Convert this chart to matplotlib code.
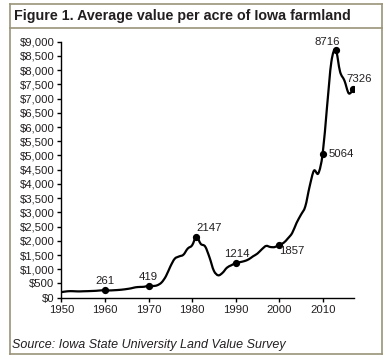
import matplotlib
matplotlib.use("Agg")
import matplotlib.pyplot as plt
from matplotlib.path import Path
from matplotlib.patches import PathPatch
from matplotlib.lines import Line2D
from matplotlib.ticker import FuncFormatter
import numpy as np

# Iowa farmland, average value per acre (nominal $), ISU Land Value Survey
years = list(range(1950, 2018))
values = [
    196, 219, 230, 226, 221, 226, 230, 236, 243, 256,          # 1950s
    261, 255, 262, 271, 285, 305, 330, 365, 378, 385,          # 1960s
    419, 410, 437, 537, 758, 1095, 1368, 1450, 1510, 1728,     # 1970s
    1840, 2147, 1889, 1801, 1418, 948, 787, 875, 1054, 1139,   # 1980s
    1214, 1250, 1286, 1349, 1455, 1550, 1699, 1820, 1782, 1781,  # 1990s
    1857, 1926, 2083, 2275, 2629, 2914, 3204, 3908, 4468, 4371,  # 2000s
    5064, 6708, 8296, 8716, 7943, 7633, 7183, 7326,            # 2010s
]

# labelled points: label offset in pixels and horizontal alignment
label_years = [1960, 1970, 1981, 1990, 2000, 2010, 2013, 2017]
label_offsets = [(0, 9), (0, 9), (13, 9), (1, 9), (13, -6), (6, 0), (-8, 8), (6, 10)]
label_ha = ["center", "center", "center", "center", "center", "left", "center", "center"]

x_ticks = [1950, 1960, 1970, 1980, 1990, 2000, 2010]
y_ticks = list(range(0, 9001, 500))

BORDER = "#9a9478"
TEXT = "#231f20"
FONT = ["Liberation Sans", "DejaVu Sans"]


def smooth_path(xs, ys):
    """Bezier path through the points (the spreadsheet 'smoothed line' look)."""
    pts = np.column_stack([xs, ys]).astype(float)
    n = len(pts)
    verts = [pts[0]]
    codes = [Path.MOVETO]
    for i in range(n - 1):
        p0 = pts[i - 1] if i > 0 else pts[i]
        p1 = pts[i]
        p2 = pts[i + 1]
        p3 = pts[i + 2] if i + 2 < n else pts[i + 1]
        c1 = p1 + (p2 - p0) / 6.0
        c2 = p2 - (p3 - p1) / 6.0
        verts += [c1, c2, p2]
        codes += [Path.CURVE4] * 3
    return Path(verts, codes)


fig = plt.figure(figsize=(3.88, 3.63), dpi=100)
fig.patch.set_facecolor("white")

ax = fig.add_axes([0.1585, 0.1799, 0.9124 - 0.1585, 0.8851 - 0.1799])
ax.add_patch(PathPatch(smooth_path(years, values), fill=False, lw=1.6,
                       edgecolor="black", capstyle="round", joinstyle="round"))

lx = label_years
ly = [values[years.index(y)] for y in label_years]
ax.plot(lx, ly, "o", color="black", markersize=4.2, zorder=3)
for x, y, off, ha in zip(lx, ly, label_offsets, label_ha):
    ax.annotate(str(y), (x, y), xytext=off, textcoords="offset pixels",
                ha=ha, va="center", fontsize=8.2, color=TEXT, family=FONT)

ax.set_xlim(1950, 2017.2)
ax.set_ylim(0, 9000)
ax.set_xticks(x_ticks)
ax.set_yticks(y_ticks)
ax.yaxis.set_major_formatter(FuncFormatter(lambda v, p: f"${v:,.0f}"))
for s in ["top", "right"]:
    ax.spines[s].set_visible(False)
for s in ["left", "bottom"]:
    ax.spines[s].set_linewidth(1.0)
    ax.spines[s].set_color("black")
ax.tick_params(direction="out", length=3, width=1.0, pad=2, colors="black",
               labelcolor=TEXT, labelsize=8.2)
for lab in ax.get_xticklabels() + ax.get_yticklabels():
    lab.set_family(FONT)


# frame around the figure, with a rule under the title
def hline(y, x0=10, x1=382):
    fig.add_artist(Line2D([x0 / 388, x1 / 388], [1 - y / 363, 1 - y / 363],
                          color=BORDER, lw=1.2))


def vline(x, y0=4, y1=354):
    fig.add_artist(Line2D([x / 388, x / 388], [1 - y0 / 363, 1 - y1 / 363],
                          color=BORDER, lw=1.2))


hline(4)
hline(28)
hline(354)
vline(10)
vline(382)

fig.text(14 / 388, 1 - 16 / 363, "Figure 1. Average value per acre of Iowa farmland",
         ha="left", va="center", fontsize=10.3, fontweight="bold", color=TEXT,
         family=FONT)
fig.text(12 / 388, 1 - 345 / 363, "Source: Iowa State University Land Value Survey",
         ha="left", va="center", fontsize=9, style="italic", color=TEXT,
         family=FONT)

fig.savefig("out.png", dpi=100)
